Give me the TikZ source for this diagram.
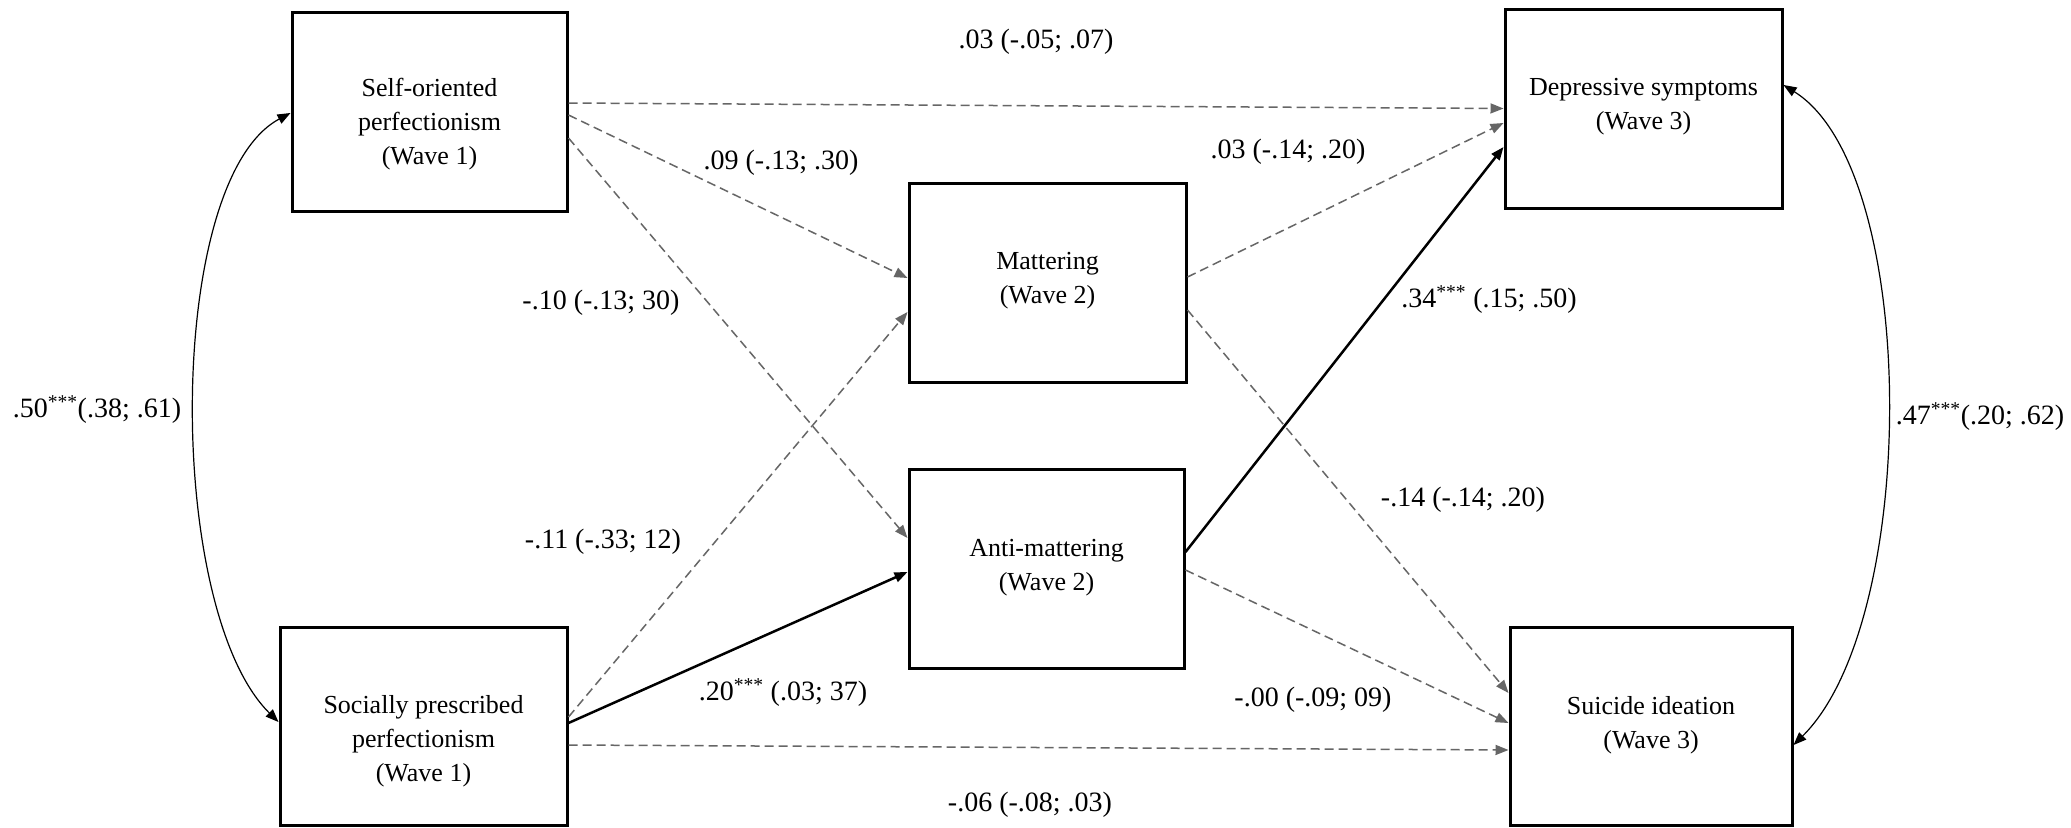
\documentclass[tikz,border=0pt]{standalone}
\usepackage{fontspec}
\setmainfont{Liberation Serif}
\usetikzlibrary{arrows.meta,calc}
\begin{document}
\begin{tikzpicture}[x=1pt,y=-1pt,
  box/.style={draw, line width=3pt, inner sep=0pt},
  boxtext/.style={align=center, font=\fontsize{26}{34}\selectfont, inner sep=0pt},
  lab/.style={font=\fontsize{28}{34}\selectfont, inner sep=0pt},
  tipend/.style={-{Triangle[length=13pt,width=10pt]}},
  ns/.style={draw=black!60, line width=1.5pt, dash pattern=on 9pt off 5pt, tipend},
  sig/.style={draw=black, line width=2.5pt, tipend},
  cov/.style={draw=black, line width=1.2pt, {Triangle[length=13pt,width=10pt]}-{Triangle[length=13pt,width=10pt]}}]
\fill[white] (0,0) rectangle (2071,827);
\useasboundingbox (0,0) rectangle (2071,827);

% boxes
\node[box, minimum width=275pt, minimum height=199pt] (so) at (429.5,111.5) {};
\node[box, minimum width=287pt, minimum height=198pt] (spp) at (423.5,726) {};
\node[box, minimum width=277pt, minimum height=199pt] (mat) at (1047.5,282.5) {};
\node[box, minimum width=275pt, minimum height=199pt] (anti) at (1046.5,568.5) {};
\node[box, minimum width=277pt, minimum height=199pt] (dep) at (1643.5,108.5) {};
\node[box, minimum width=282pt, minimum height=198pt] (sui) at (1651,726) {};

% box texts
\node[boxtext] (sot) at ($(so.center)+(0,13)$) {Self-oriented\\perfectionism\\(Wave 1)};
\node[boxtext] (sppt) at ($(spp.center)+(0,15)$) {Socially prescribed\\perfectionism\\(Wave 1)};
\node[boxtext] (matt) at ($(mat.center)+(0,-2)$) {Mattering\\(Wave 2)};
\node[boxtext] (antit) at ($(anti.center)+(0,-1)$) {Anti-mattering\\(Wave 2)};
\node[boxtext] (dept) at ($(dep.center)+(0,-2)$) {Depressive symptoms\\(Wave 3)};
\node[boxtext] (suit) at ($(sui.center)+(0,-1)$) {Suicide ideation\\(Wave 3)};

% paths
\draw[ns] ($(so.east)+(0,-8.5)$) -- (dep.west);
\draw[ns] ($(so.east)+(0,3.5)$) -- ($(mat.west)+(0,-4.5)$);
\draw[ns] ($(so.east)+(0,26.5)$) -- ($(anti.west)+(0,-30.5)$);
\draw[ns] ($(spp.east)+(0,-9)$) -- ($(mat.west)+(0,29.5)$);
\draw[sig] ($(spp.east)+(0,-3)$) -- ($(anti.west)+(0,3.5)$);
\draw[ns] ($(spp.east)+(0,19)$) -- ($(sui.west)+(0,24)$);
\draw[ns] ($(mat.east)+(0,-5.5)$) -- ($(dep.west)+(0,14.5)$);
\draw[ns] ($(mat.east)+(0,27.5)$) -- ($(sui.west)+(0,-33)$);
\draw[sig] ($(anti.east)+(0,-16.5)$) -- ($(dep.west)+(0,38.5)$);
\draw[ns] ($(anti.east)+(0,1.5)$) -- ($(sui.west)+(0,-3)$);

% covariances
\draw[cov] ($(so.west)+(0,1.5)$) .. controls (165,180) and (165,610) .. ($(spp.west)+(0,-4)$);
\draw[cov] ($(dep.east)+(0,-23.5)$) .. controls (1920,170) and (1920,620) .. ($(sui.east)+(0,19)$);

% labels
\node[lab] (l1) at (1036,42) {.03 (-.05; .07)};
\node[lab] (l2) at (781,163) {.09 (-.13; .30)};
\node[lab] (l3) at (601,303) {-.10 (-.13; 30)};
\node[lab] (l4) at (603,542) {-.11 (-.33; 12)};
\node[lab] (l5) at (783,693) {.20\textsuperscript{***} (.03; 37)};
\node[lab] (l6) at (1030,805) {-.06 (-.08; .03)};
\node[lab] (l7) at (1288,152) {.03 (-.14; .20)};
\node[lab] (l8) at (1463,500) {-.14 (-.14; .20)};
\node[lab] (l9) at (1489,300) {.34\textsuperscript{***} (.15; .50)};
\node[lab] (l10) at (1313,700) {-.00 (-.09; 09)};
\node[lab] (l11) at (97,410) {.50\textsuperscript{***}(.38; .61)};
\node[lab] (l12) at (1980,417) {.47\textsuperscript{***}(.20; .62)};
\end{tikzpicture}
\end{document}
